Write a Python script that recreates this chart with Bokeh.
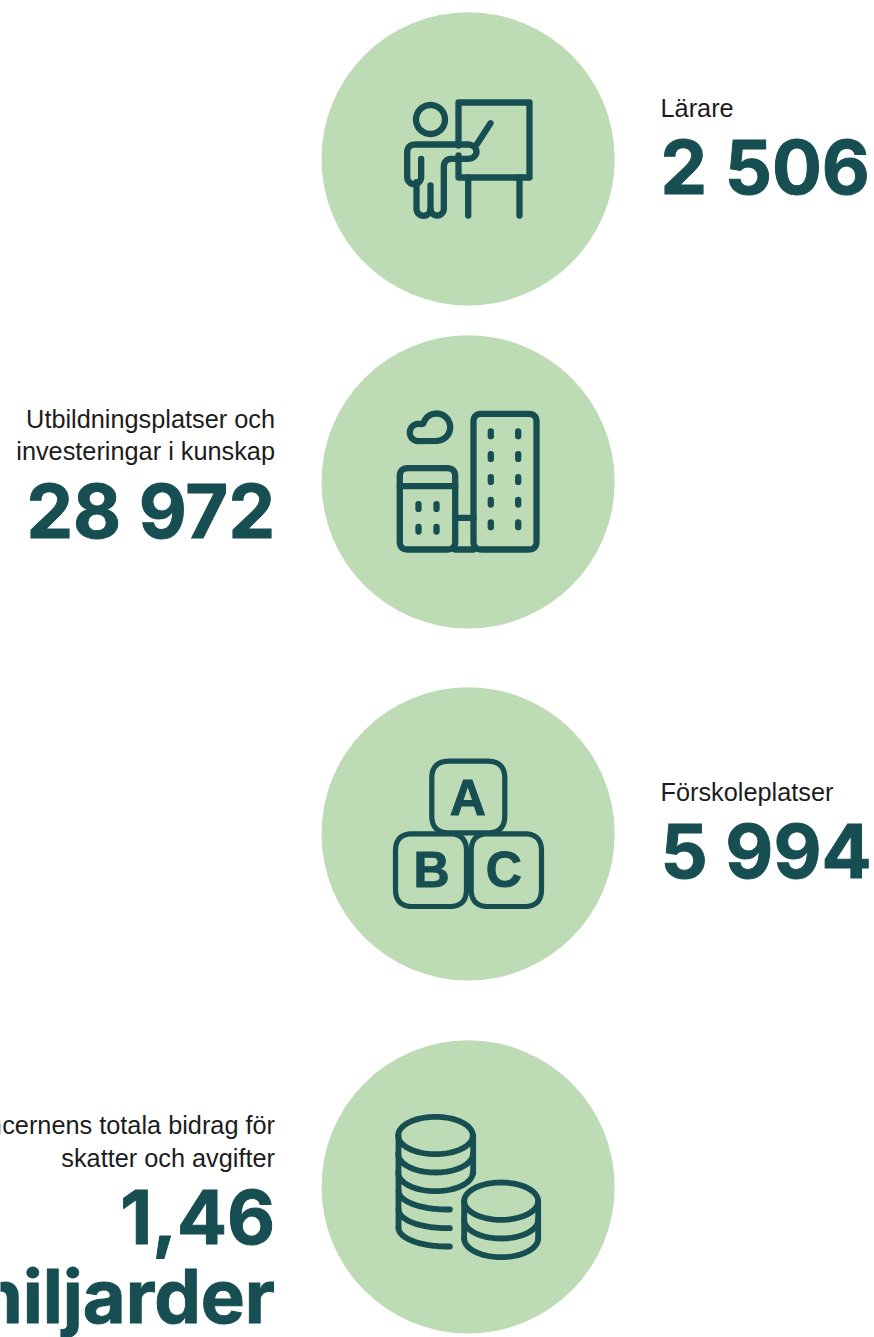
import math
from bokeh.plotting import figure
from bokeh.models import Range1d
from bokeh.core.properties import value
from bokeh.embed import file_html
from bokeh.resources import INLINE

# ---- content ----
labels = [["Lärare"],
          ["Utbildningsplatser och", "investeringar i kunskap"],
          ["Förskoleplatser"],
          ["Koncernens totala bidrag för", "skatter och avgifter"]]
figures = [["2 506"], ["28 972"], ["5 994"], ["1,46", "miljarder"]]
blocks = ["A", "B", "C"]

# ---- styling / layout ----
GREEN = "#bddbb4"
TEAL = "#174e52"
INK = "#1c1c1c"
W, H = 874, 1337
circle_x = 467.6
circle_y = [158.4, 481.4, 833.4, 1186.4]
circle_r = 146.6
label_baselines = [[116], [427, 459], [800], [1133, 1166]]
figure_baselines = [[196.5], [540.5], [880], [1246, 1325]]
anchors = [("left", 660), ("right", 274.5), ("left", 660), ("right", 274.5)]
LABEL_PX = 25.3
FIG_PX = 74
FIG_FONT = "Inter"
LABEL_FONT = "Liberation Sans"
SW = 6.3

p = figure(width=W, height=H, x_range=Range1d(0, W), y_range=Range1d(H, 0),
           output_backend="svg", toolbar_location=None, min_border=0)
p.axis.visible = False
p.grid.visible = False
p.outline_line_color = None
p.background_fill_color = "white"
p.border_fill_color = "white"

p.circle(x=[circle_x] * 4, y=circle_y, radius=circle_r, fill_color=GREEN, line_color=None)


def arc(cx, cy, rx, ry, a0, a1, n=40):
    return [(cx + rx * math.cos(math.radians(a0 + (a1 - a0) * i / n)),
             cy + ry * math.sin(math.radians(a0 + (a1 - a0) * i / n))) for i in range(n + 1)]


def rounded(pts, r, closed=False):
    """polyline with rounded corners; r is a radius or list of radii per vertex"""
    n = len(pts)
    rs = r if isinstance(r, list) else [r] * n
    out = []
    for i in range(n):
        if not closed and i in (0, n - 1):
            out.append(pts[i])
            continue
        a, b, c = pts[(i - 1) % n], pts[i], pts[(i + 1) % n]
        ab, cb = math.dist(a, b), math.dist(c, b)
        s = min(rs[i], ab / 2, cb / 2)
        if s <= 0:
            out.append(b)
            continue
        p0 = (b[0] + (a[0] - b[0]) * s / ab, b[1] + (a[1] - b[1]) * s / ab)
        p2 = (b[0] + (c[0] - b[0]) * s / cb, b[1] + (c[1] - b[1]) * s / cb)
        for k in range(13):
            t = k / 12
            out.append(((1 - t) ** 2 * p0[0] + 2 * t * (1 - t) * b[0] + t * t * p2[0],
                        (1 - t) ** 2 * p0[1] + 2 * t * (1 - t) * b[1] + t * t * p2[1]))
    if closed:
        out.append(out[0])
    return out


def rrect(x0, y0, x1, y1, r):
    return rounded([(x0, y0), (x1, y0), (x1, y1), (x0, y1)], r, closed=True)


def stroke(path, w=SW):
    p.line([q[0] for q in path], [q[1] for q in path], line_color=TEAL, line_width=w,
           line_cap="round", line_join="round")


def z(ox, oy, pts):
    return [(ox + a / 3, oy + b / 3) for a, b in pts]


# --- teacher icon ---
o = (380, 80)
stroke(arc(430, 119, 14.5, 14.5, 0, 360, 60))
stroke([(458, 145), (458, 102), (529, 102), (529, 177), (458, 177), (458, 155)])
stroke([(467.7, 177), (467.7, 215)])
stroke([(519, 177), (519, 215)])
stroke([(490, 122.7), (476.7, 143.3)])
arm_top = rounded([(80, 290), (80, 192), (262, 192)], [0, 25, 0])
body = ([(122, 235)] + arc(101, 290, 21, 21, 0, 180, 16) + arm_top
        + arc(262, 213.5, 26, 21.5, -90, 90, 16)
        + rounded([(262, 235), (190, 235), (190, 385)], [0, 25, 0])
        + arc(170, 385, 20, 20, 0, 180, 16) + [(150, 315)])
stroke(z(*o, body))
stroke(z(*o, [(108, 305)] + arc(129, 385, 21, 21, 180, 0, 16)))

# --- buildings icon ---
o = (380, 395)
stroke(rrect(473, 413.3, 536, 549, 8))
stroke(rrect(399.3, 467.7, 454.7, 549, 8))
stroke([(399.3, 485.7), (454.7, 485.7)])
stroke([(454.7, 517.3), (473, 517.3)])
stroke([(454.7, 549), (473, 549)])
for wx in (490.3, 517.7):
    for wy in (433.3, 456, 479, 501.7, 524.3):
        stroke([(wx, wy - 2.4), (wx, wy + 2.4)])
for wx in (418, 436):
    for wy in (506, 528.7):
        stroke([(wx, wy - 2.4), (wx, wy + 2.4)])
cloud = arc(114, 111, 26, 26, 90, 285) + arc(168, 95, 41, 41, 195, 450) + [(114, 137)]
stroke(z(*o, cloud))

# --- blocks icon ---
stroke(rrect(431.3, 760.7, 504.3, 832.3, 17), 5.2)
stroke(rrect(395, 833.3, 466, 906, 17), 5.2)
stroke(rrect(470.7, 833.3, 541, 906, 17), 5.2)
p.text(x=[467.3, 431, 503.3], y=[797, 869.5, 869.5], text=blocks, text_color=TEAL,
       text_font=value("Liberation Sans"), text_font_style="bold", text_font_size="50px",
       text_align="center", text_baseline="middle", text_outline_color=TEAL)

# --- coins icon ---
CW = 5.8
o = (380, 1100)
stroke(z(*o, arc(165, 105, 112, 56, 0, 360, 80)), CW)
stroke(z(*o, [(54, 105), (54, 382)]), CW)
stroke(z(*o, [(278, 105), (278, 218)]), CW)
stroke(z(*o, arc(165, 160, 112, 56, 0, 180)), CW)
stroke(z(*o, arc(165, 216, 112, 56, 0, 180)), CW)
for cy in (271, 327, 382):
    stroke(z(*o, arc(200, cy, 146, 56, 180, 90) + [(208, cy + 56)]), CW)
stroke(z(*o, arc(362, 302, 111, 56, 0, 360, 80)), CW)
stroke(z(*o, [(251, 302), (251, 414)]), CW)
stroke(z(*o, [(473, 302), (473, 414)]), CW)
for cy in (358, 414):
    stroke(z(*o, arc(362, cy, 111, 56, 0, 180)), CW)

# --- texts (Bokeh places an "alphabetic" svg text about 0.4em low, hence the lift) ---
for i in range(4):
    align, ax = anchors[i]
    p.text(x=[ax] * len(labels[i]), y=[b - 0.35 * LABEL_PX for b in label_baselines[i]],
           text=labels[i], text_color=INK,
           text_font=value(LABEL_FONT), text_font_size=f"{LABEL_PX}px", text_align=align,
           text_baseline="alphabetic")
    p.text(x=[ax] * len(figures[i]), y=[b - 0.4 * FIG_PX for b in figure_baselines[i]],
           text=figures[i], text_color=TEAL, text_outline_color=TEAL,
           text_font=value(FIG_FONT), text_font_style="bold", text_font_size=f"{FIG_PX}px",
           text_align=align, text_baseline="alphabetic")

open("out.html", "w").write(file_html(p, INLINE))
